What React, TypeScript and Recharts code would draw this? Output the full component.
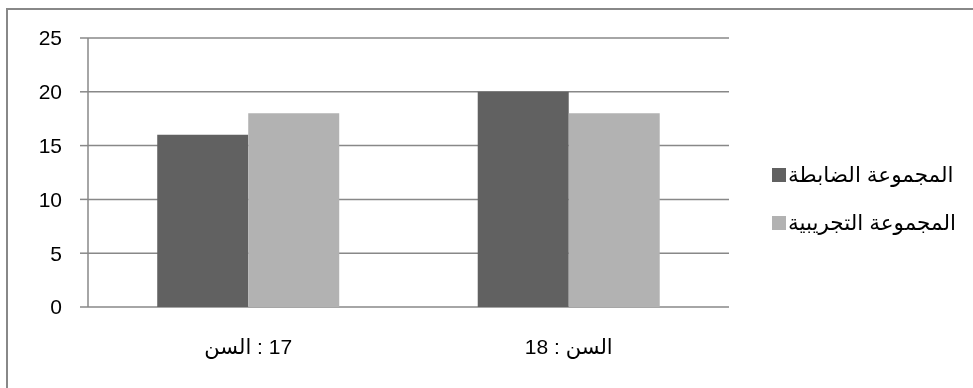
import React from "react";
import { BarChart, Bar, XAxis, YAxis, CartesianGrid } from "recharts";

const LRM = "\u200E";
const categories = [LRM + "السن" + LRM + " : 17", "السن : 18"];
const controlValues = [16, 20];
const experimentalValues = [18, 18];
const seriesNames = ["المجموعة الضابطة", "المجموعة التجريبية"];
const seriesColors = ["#616161", "#b2b2b2"];
const yTicks = [0, 5, 10, 15, 20, 25];
const boundaryTicks = [0, 1, 2];

const data = categories.map((c, i) => ({
  name: c,
  control: controlValues[i],
  experimental: experimentalValues[i],
}));

const FONT = "'Liberation Sans', Arial, 'DejaVu Sans', sans-serif";
const AXIS = "#888888";

export default function App() {
  return (
    <div
      style={{
        position: "relative",
        width: 965,
        height: 380,
        fontFamily: FONT,
      }}
    >
      <div style={{ position: "fixed", left: 6, top: 8, width: 2, height: 380, background: AXIS }} />
      <div style={{ position: "fixed", left: 6, top: 8, width: 967, height: 2, background: AXIS }} />
      <div style={{ position: "absolute", left: 0, top: 2 }}>
        <BarChart
          width={965}
          height={378}
          data={data}
          margin={{ top: 28, right: 244, left: 0, bottom: 21 }}
          barCategoryGap="21.6%"
          barGap={0}
        >
          <CartesianGrid
            vertical={false}
            stroke={AXIS}
            strokeWidth={1.5}
            xAxisId="b"
          />
          <XAxis
            xAxisId="b"
            type="number"
            domain={[0, 2]}
            ticks={boundaryTicks}
            tick={false}
            tickSize={9}
            tickLine={{ stroke: AXIS, strokeWidth: 1.5 }}
            axisLine={{ stroke: AXIS, strokeWidth: 1.5 }}
            height={0}
          />
          <XAxis
            xAxisId="cat"
            dataKey="name"
            axisLine={false}
            tickLine={false}
            tickSize={8}
            tickMargin={24}
            height={60}
            tick={{ fill: "#000", fontSize: 21, fontFamily: FONT }}
          />
          <YAxis
            domain={[0, 25]}
            ticks={yTicks}
            width={80}
            tickSize={8}
            tickMargin={18}
            axisLine={{ stroke: AXIS, strokeWidth: 1.5 }}
            tickLine={{ stroke: AXIS, strokeWidth: 1.5 }}
            tick={{ fill: "#000", fontSize: 21, fontFamily: FONT }}
          />
          <Bar
            dataKey="control"
            name={seriesNames[0]}
            fill={seriesColors[0]}
            xAxisId="cat"
            isAnimationActive={false}
          />
          <Bar
            dataKey="experimental"
            name={seriesNames[1]}
            fill={seriesColors[1]}
            xAxisId="cat"
            isAnimationActive={false}
          />
        </BarChart>
      </div>
      <div
        style={{
          position: "absolute",
          left: 764,
          top: 154,
          display: "flex",
          flexDirection: "column",
          gap: 22,
        }}
      >
        {seriesNames.map((n, i) => (
          <div key={n} style={{ display: "flex", alignItems: "center", height: 26 }}>
            <div style={{ width: 14, height: 14, background: seriesColors[i], marginRight: 2 }} />
            <span style={{ fontSize: 21.5, color: "#000", fontFamily: FONT, lineHeight: "26px", whiteSpace: "nowrap" }}>{n}</span>
          </div>
        ))}
      </div>
    </div>
  );
}
